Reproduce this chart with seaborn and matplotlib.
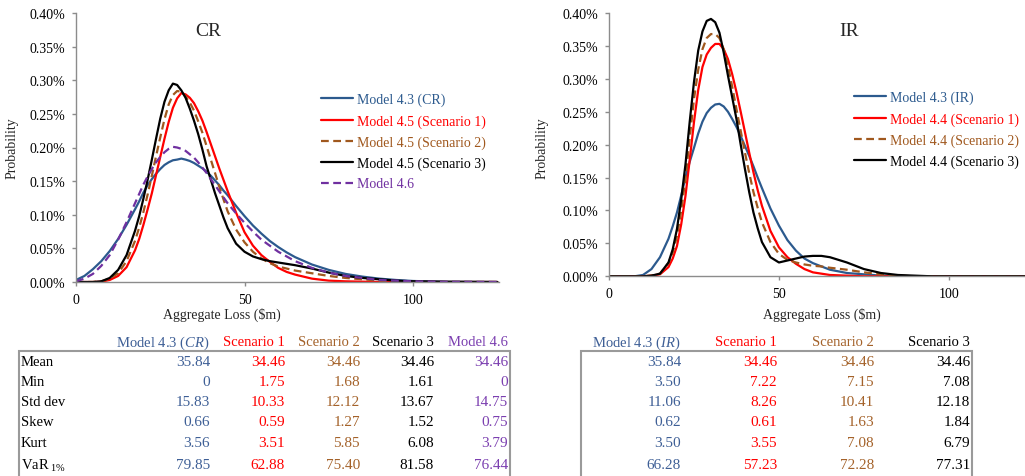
import numpy as np
import pandas as pd
import matplotlib
matplotlib.use("Agg")
import matplotlib.pyplot as plt
import seaborn as sns
from matplotlib.patches import Rectangle
from matplotlib.ticker import FuncFormatter

# ---------------- data ----------------
X = [0, 2.5, 5, 7.5, 10, 12.5, 15, 17.5,
     18.75, 20, 21.25, 22.5, 23.75, 25, 26.25, 27.5, 28.75, 30, 31.25, 32.5, 33.75, 35,
     36.25, 37.5, 38.75, 40, 41.25, 42.5, 43.75, 45,
     47.5, 50, 52.5, 55, 57.5, 60, 62.5, 65,
     70, 75, 80, 85, 90, 95, 100,
     110, 125]

# CR panel (probability in %)
CR_M43 = [0.003, 0.009, 0.019, 0.031, 0.046, 0.064, 0.085, 0.108,
          0.120, 0.133, 0.144, 0.153, 0.161, 0.168, 0.174, 0.178, 0.181, 0.182, 0.1835, 0.182,
          0.180, 0.177, 0.173, 0.169, 0.164, 0.158, 0.151, 0.144, 0.136, 0.129,
          0.113, 0.098, 0.084, 0.072, 0.061, 0.052, 0.044, 0.037,
          0.026, 0.018, 0.012, 0.008, 0.005, 0.003, 0.0015,
          0.0004, 0.0]
CR_S1 = [0, 0, 0, 0.0005, 0.003, 0.009, 0.022, 0.047,
         0.064, 0.085, 0.108, 0.132, 0.159, 0.186, 0.213, 0.238, 0.259, 0.273, 0.281, 0.279,
         0.274, 0.266, 0.254, 0.240, 0.223, 0.205, 0.187, 0.169, 0.152, 0.135,
         0.103, 0.074, 0.054, 0.040, 0.030, 0.021, 0.015, 0.011,
         0.005, 0.002, 0.001, 0.0005, 0, 0, 0,
         0, 0]
CR_S2 = [0, 0, 0, 0.001, 0.005, 0.013, 0.031, 0.061,
         0.081, 0.104, 0.130, 0.158, 0.187, 0.215, 0.242, 0.264, 0.278, 0.284, 0.283, 0.276,
         0.267, 0.255, 0.239, 0.222, 0.202, 0.182, 0.162, 0.142, 0.123, 0.105,
         0.078, 0.059, 0.045, 0.035, 0.028, 0.023, 0.020, 0.017,
         0.013, 0.009, 0.006, 0.004, 0.002, 0.001, 0.0005,
         0, 0]
CR_S3 = [0, 0, 0, 0.001, 0.006, 0.018, 0.040, 0.076,
         0.098, 0.124, 0.152, 0.182, 0.213, 0.243, 0.268, 0.285, 0.295, 0.293, 0.285, 0.274,
         0.258, 0.240, 0.220, 0.197, 0.172, 0.152, 0.132, 0.114, 0.096, 0.080,
         0.057, 0.045, 0.038, 0.034, 0.031, 0.029, 0.027, 0.025,
         0.020, 0.014, 0.009, 0.006, 0.004, 0.002, 0.001,
         0.0003, 0]
CR_M46 = [0.001, 0.005, 0.012, 0.024, 0.040, 0.063, 0.089, 0.117,
          0.131, 0.145, 0.157, 0.168, 0.178, 0.186, 0.193, 0.198, 0.201, 0.200, 0.198, 0.195,
          0.190, 0.185, 0.178, 0.170, 0.162, 0.153, 0.144, 0.135, 0.126, 0.117,
          0.102, 0.088, 0.075, 0.063, 0.054, 0.045, 0.038, 0.031,
          0.021, 0.014, 0.009, 0.006, 0.003, 0.002, 0.001,
          0.0002, 0]

# IR panel (probability in %)
IR_M43 = [0, 0, 0, 0, 0.002, 0.011, 0.029, 0.057,
          0.076, 0.097, 0.123, 0.150, 0.174, 0.195, 0.217, 0.235, 0.248, 0.256, 0.261, 0.262,
          0.258, 0.250, 0.239, 0.227, 0.213, 0.198, 0.183, 0.167, 0.150, 0.134,
          0.103, 0.077, 0.055, 0.039, 0.027, 0.020, 0.015, 0.010,
          0.005, 0.003, 0.001, 0.0005, 0, 0, 0,
          0, 0]
IR_S1 = [0, 0, 0, 0, 0, 0.001, 0.003, 0.014,
         0.027, 0.046, 0.079, 0.122, 0.177, 0.234, 0.283, 0.318, 0.337, 0.347, 0.353, 0.353,
         0.345, 0.330, 0.307, 0.280, 0.250, 0.219, 0.188, 0.158, 0.131, 0.107,
         0.069, 0.044, 0.029, 0.019, 0.011, 0.006, 0.004, 0.002,
         0.001, 0, 0, 0, 0, 0, 0,
         0, 0]
IR_S2 = [0, 0, 0, 0, 0, 0.001, 0.004, 0.020,
         0.036, 0.061, 0.100, 0.148, 0.210, 0.269, 0.314, 0.345, 0.362, 0.368, 0.368, 0.362,
         0.345, 0.320, 0.288, 0.254, 0.221, 0.188, 0.157, 0.128, 0.104, 0.082,
         0.052, 0.034, 0.025, 0.021, 0.018, 0.016, 0.015, 0.013,
         0.010, 0.006, 0.003, 0.001, 0, 0, 0,
         0, 0]
IR_S3 = [0, 0, 0, 0, 0, 0.001, 0.004, 0.021,
         0.041, 0.072, 0.117, 0.170, 0.235, 0.295, 0.343, 0.372, 0.388, 0.391, 0.386, 0.370,
         0.340, 0.305, 0.272, 0.239, 0.200, 0.163, 0.128, 0.097, 0.073, 0.052,
         0.029, 0.021, 0.024, 0.027, 0.030, 0.031, 0.031, 0.029,
         0.021, 0.011, 0.005, 0.002, 0.001, 0, 0,
         0, 0]

CR_LABELS = ["Model 4.3 (CR)", "Model 4.5 (Scenario 1)", "Model 4.5 (Scenario 2)",
             "Model 4.5 (Scenario 3)", "Model 4.6"]
IR_LABELS = ["Model 4.3 (IR)", "Model 4.4 (Scenario 1)", "Model 4.4 (Scenario 2)",
             "Model 4.4 (Scenario 3)"]
Y_TICKS = [0.00, 0.05, 0.10, 0.15, 0.20, 0.25, 0.30, 0.35, 0.40]
X_TICKS = [0, 50, 100]

# tables
ROW_LABELS = ["Mean", "Min", "Std dev", "Skew", "Kurt", r"VaR$_{\mathrm{\ 1\%}}$"]
CR_HEADERS = [r"Model 4.3 ($\mathit{CR}$)", "Scenario 1", "Scenario 2", "Scenario 3", "Model 4.6"]
CR_T_M43 = ["35.84", "0", "15.83", "0.66", "3.56", "79.85"]
CR_T_S1 = ["34.46", "1.75", "10.33", "0.59", "3.51", "62.88"]
CR_T_S2 = ["34.46", "1.68", "12.12", "1.27", "5.85", "75.40"]
CR_T_S3 = ["34.46", "1.61", "13.67", "1.52", "6.08", "81.58"]
CR_T_M46 = ["34.46", "0", "14.75", "0.75", "3.79", "76.44"]
IR_HEADERS = [r"Model 4.3 ($\mathit{IR}$)", "Scenario 1", "Scenario 2", "Scenario 3"]
IR_T_M43 = ["35.84", "3.50", "11.06", "0.62", "3.50", "66.28"]
IR_T_S1 = ["34.46", "7.22", "8.26", "0.61", "3.55", "57.23"]
IR_T_S2 = ["34.46", "7.15", "10.41", "1.63", "7.08", "72.28"]
IR_T_S3 = ["34.46", "7.08", "12.18", "1.84", "6.79", "77.31"]

# ---------------- style ----------------
BLUE = "#2C5A8E"
RED = "#FF0000"
BROWN = "#A0581E"
BLACK = "#000000"
PURPLE = "#7030A0"
TBLUE = "#3E5F96"
TBROWN = "#A4622A"
TPURPLE = "#7B3FB0"
GRAY = "#8c8c8c"

sns.set_theme(style="ticks")
plt.rcParams['font.family'] = ['Liberation Serif', 'DejaVu Serif']
plt.rcParams['mathtext.fontset'] = 'custom'
plt.rcParams['mathtext.rm'] = 'Liberation Serif'
plt.rcParams['mathtext.it'] = 'Liberation Serif:italic'

W, H = 1025, 477
fig = plt.figure(figsize=(W / 100, H / 100), dpi=100)


def fx(px):
    return px / W


def fy(py):
    return 1 - py / H


axL = fig.add_axes([fx(76), fy(283), fx(499) - fx(76), fy(14) - fy(283)])
axR = fig.add_axes([fx(609), fy(277.3), fx(1025) - fx(609), fy(14) - fy(277.3)])

DASH = (0, (3.5, 2))
LW = 1.6

cr_series = [(CR_M43, BLUE, '-'), (CR_S1, RED, '-'), (CR_S2, BROWN, DASH),
             (CR_S3, BLACK, '-'), (CR_M46, PURPLE, DASH)]
ir_series = [(IR_M43, BLUE, '-'), (IR_S1, RED, '-'), (IR_S2, BROWN, DASH),
             (IR_S3, BLACK, '-')]

for ax, series, labels in [(axL, cr_series, CR_LABELS), (axR, ir_series, IR_LABELS)]:
    for (vals, col, ls), lab in zip(series, labels):
        df = pd.DataFrame({"x": X, "p": vals})
        sns.lineplot(data=df, x="x", y="p", ax=ax, color=col, linestyle=ls, lw=LW,
                     label=lab, estimator=None, sort=True)
    for ln in ax.get_lines():
        ln.set_solid_joinstyle('round')
        ln.set_dash_joinstyle('round')

for ax, xmax in [(axL, 125.5), (axR, 122.4)]:
    ax.set_xlim(0, xmax)
    ax.set_ylim(0, 0.40)
    ax.set_xticks(X_TICKS)
    ax.set_yticks(Y_TICKS)
    ax.yaxis.set_major_formatter(FuncFormatter(lambda v, p: f"{v:.2f}%"))
    sns.despine(ax=ax)
    for s in ['left', 'bottom']:
        ax.spines[s].set_color(GRAY)
        ax.spines[s].set_linewidth(1.0)
    ax.tick_params(axis='both', which='major', length=3, width=1, color=GRAY,
                   labelsize=10, labelcolor='black', direction='out', pad=5,
                   left=True, bottom=True)
    ax.set_xlabel("")
    ax.set_ylabel("")

# legends
for ax, anchor, series in [(axL, (321, 94), cr_series), (axR, (854, 92), ir_series)]:
    leg = ax.legend(loc='upper left', bbox_to_anchor=(fx(anchor[0]), fy(anchor[1])),
                    bbox_transform=fig.transFigure, frameon=False, fontsize=10,
                    handlelength=2.3, handletextpad=0.3, labelspacing=0.55,
                    borderpad=0, borderaxespad=0)
    for txt, (_, col, _) in zip(leg.get_texts(), series):
        txt.set_color(col)

# titles and axis labels
fig.text(fx(208), fy(32), "CR", ha='center', va='center', fontsize=14)
fig.text(fx(849), fy(32), "IR", ha='center', va='center', fontsize=14)
fig.text(fx(12), fy(148), "Probability", rotation=90, ha='center', va='center', fontsize=10)
fig.text(fx(542), fy(148), "Probability", rotation=90, ha='center', va='center', fontsize=10)
fig.text(fx(222), fy(315), r"Aggregate Loss (\$m)", ha='center', va='center', fontsize=10)
fig.text(fx(822), fy(315), r"Aggregate Loss (\$m)", ha='center', va='center', fontsize=10)

# tables
ROW_Y = [363, 383, 403, 423, 444, 466]
HEAD_Y = 343

# left table
fig.add_artist(Rectangle((fx(19), fy(485)), fx(510) - fx(19), fy(352) - fy(485),
                         transform=fig.transFigure, fill=False, edgecolor='#9a9a9a',
                         lw=1.5, clip_on=False))
for lab, y in zip(ROW_LABELS, ROW_Y):
    fig.text(fx(21), fy(y), lab, ha='left', va='center', fontsize=10.5, color='black')
cr_cols = [(CR_T_M43, TBLUE, 210), (CR_T_S1, RED, 285), (CR_T_S2, TBROWN, 360),
           (CR_T_S3, BLACK, 434), (CR_T_M46, TPURPLE, 508)]
for head, (vals, col, xr) in zip(CR_HEADERS, cr_cols):
    fig.text(fx(xr), fy(HEAD_Y), head, ha='right', va='center', fontsize=10.5, color=col)
    for v, y in zip(vals, ROW_Y):
        fig.text(fx(xr), fy(y), v, ha='right', va='center', fontsize=11, color=col)

# right table
fig.add_artist(Rectangle((fx(581), fy(485)), fx(972) - fx(581), fy(352) - fy(485),
                         transform=fig.transFigure, fill=False, edgecolor='#9a9a9a',
                         lw=1.5, clip_on=False))
ir_cols = [(IR_T_M43, TBLUE, 681), (IR_T_S1, RED, 777), (IR_T_S2, TBROWN, 874),
           (IR_T_S3, BLACK, 970)]
for head, (vals, col, xr) in zip(IR_HEADERS, ir_cols):
    fig.text(fx(xr), fy(HEAD_Y), head, ha='right', va='center', fontsize=10.5, color=col)
    for v, y in zip(vals, ROW_Y):
        fig.text(fx(xr), fy(y), v, ha='right', va='center', fontsize=11, color=col)

fig.savefig("out.png", dpi=100)
